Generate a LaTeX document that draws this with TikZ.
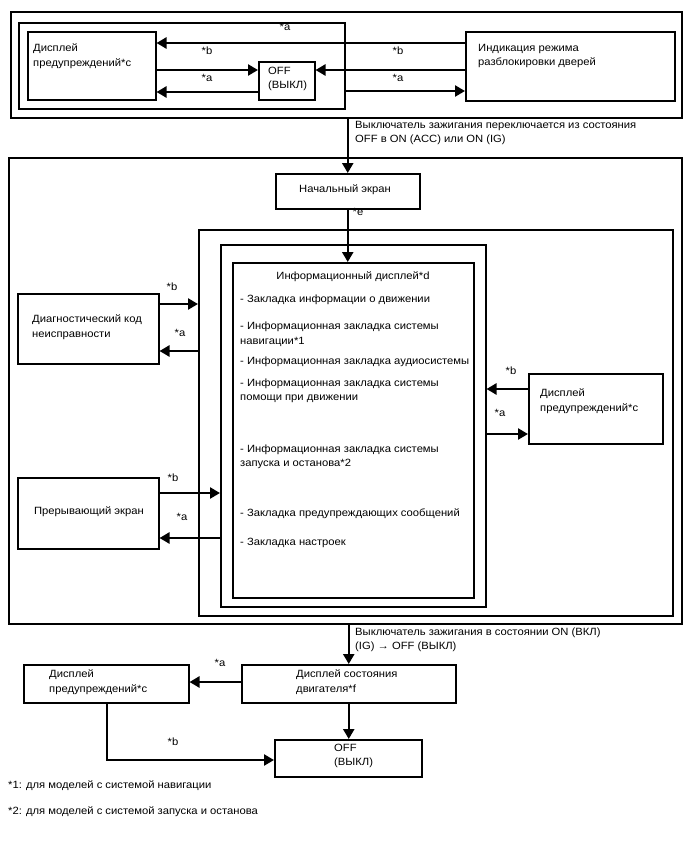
\documentclass[tikz,border=0pt]{standalone}
\usepackage{fontspec}
\setmainfont{Liberation Sans}[FakeStretch=1.07]
\usetikzlibrary{arrows.meta}
\newcommand\fs{\fontsize{10.5}{14.5}\selectfont}
\tikzset{
  box/.style={draw, line width=1.5pt, inner sep=0pt, anchor=north west},
  arr/.style={line width=2.4pt, -{Triangle[length=10pt,width=11pt]}},
  txt/.style={font=\fs, align=left, inner sep=0pt, anchor=west},
  lbl/.style={font=\fs, inner sep=0pt},
}
\begin{document}
\begin{tikzpicture}[x=1pt,y=-1pt]
\useasboundingbox (0,0) rectangle (688,852);
\fill[white] (0,0) rectangle (688,852);
% ---------- top section ----------
\node[box, minimum width=671pt, minimum height=106pt] (topouter) at (10,11) {};
\node[box, minimum width=326pt, minimum height=86pt] (topinner) at (18,22) {};
\node[box, minimum width=128pt, minimum height=68pt] (warnTop) at (27,31) {};
\node[box, minimum width=209pt, minimum height=69pt] (doorBox) at (465,31) {};
\node[box, minimum width=56pt, minimum height=38pt] (offTop) at (258,61) {};
\node[txt] (tWarnTop) at (33,56) {Дисплей\\предупреждений*c};
\node[txt] (tDoor) at (478,56) {Индикация режима\\разблокировки дверей};
\node[txt] (tOffTop) at (268,79) {OFF\\(ВЫКЛ)};
\draw[arr] (doorBox.west |- 0,43) -- (warnTop.east |- 0,43);
\draw[arr] (warnTop.east |- 0,70) -- (offTop.west |- 0,70);
\draw[arr] (offTop.west |- 0,92) -- (warnTop.east |- 0,92);
\draw[arr] (doorBox.west |- 0,70) -- (offTop.east |- 0,70);
\draw[arr] (topinner.east |- 0,91) -- (doorBox.west |- 0,91);
\node[lbl] (la1) at (285,27) {*a};
\node[lbl] (lb1) at (207,51) {*b};
\node[lbl] (lb2) at (398,51) {*b};
\node[lbl] (la2) at (207,78) {*a};
\node[lbl] (la3) at (398,78) {*a};
\node[txt] (tIgn1) at (355,133) {Выключатель зажигания переключается из состояния\\OFF в ON (ACC) или ON (IG)};
% ---------- middle section ----------
\node[box, minimum width=673pt, minimum height=466pt] (midouter) at (8,157) {};
\node[box, minimum width=144pt, minimum height=35pt] (startBox) at (275,173) {};
\node[box, minimum width=474pt, minimum height=386pt] (box1) at (198,229) {};
\node[box, minimum width=265pt, minimum height=362pt] (box2) at (220,244) {};
\node[box, minimum width=241pt, minimum height=335pt] (box3) at (232,262) {};
\node[box, minimum width=141pt, minimum height=70pt] (diagBox) at (17,293) {};
\node[box, minimum width=141pt, minimum height=71pt] (intBox) at (17,477) {};
\node[box, minimum width=134pt, minimum height=70pt] (warnRight) at (528,373) {};
\draw[arr] (topouter.south -| startBox.north) -- (startBox.north);
\draw[arr] (startBox.south) -- (box3.north -| startBox.south);
\node[lbl] (tStart) at (345,190) {Начальный экран};
\node[lbl] (le) at (358,212) {*e};
\node[lbl] (tInfo) at (353,277) {Информационный дисплей*d};
\node[txt] (i1) at (240,300) {- Закладка информации о движении};
\node[txt] (i2) at (240,334) {- Информационная закладка системы\\навигации*1};
\node[txt] (i3) at (240,362) {- Информационная закладка аудиосистемы};
\node[txt] (i4) at (240,391) {- Информационная закладка системы\\помощи при движении};
\node[txt] (i5) at (240,457) {- Информационная закладка системы\\запуска и останова*2};
\node[txt] (i6) at (240,514) {- Закладка предупреждающих сообщений};
\node[txt] (i7) at (240,543) {- Закладка настроек};
\node[txt] (tDiag) at (32,327) {Диагностический код\\неисправности};
\node[lbl] (tInt) at (89,512) {Прерывающий экран};
\node[txt] (tWarnRight) at (540,401) {Дисплей\\предупреждений*c};
\draw[arr] (diagBox.east |- 0,304) -- (box1.west |- 0,304);
\draw[arr] (box1.west |- 0,351) -- (diagBox.east |- 0,351);
\draw[arr] (intBox.east |- 0,493) -- (box2.west |- 0,493);
\draw[arr] (box2.west |- 0,538) -- (intBox.east |- 0,538);
\draw[arr] (warnRight.west |- 0,389) -- (box2.east |- 0,389);
\draw[arr] (box2.east |- 0,434) -- (warnRight.west |- 0,434);
\node[lbl] (lb3) at (172,287) {*b};
\node[lbl] (la4) at (180,333) {*a};
\node[lbl] (lb4) at (173,478) {*b};
\node[lbl] (la5) at (182,517) {*a};
\node[lbl] (lb5) at (511,371) {*b};
\node[lbl] (la6) at (500,413) {*a};
% ---------- bottom section ----------
\node[txt] (tIgn2) at (355,640) {Выключатель зажигания в состоянии ON (ВКЛ)\\(IG) → OFF (ВЫКЛ)};
\node[box, minimum width=165pt, minimum height=38pt] (warnBot) at (23,664) {};
\node[box, minimum width=214pt, minimum height=38pt] (engBox) at (241,664) {};
\node[box, minimum width=147pt, minimum height=37pt] (offBot) at (274,739) {};
\node[txt] (tWarnBot) at (49,682) {Дисплей\\предупреждений*c};
\node[txt] (tEng) at (296,682) {Дисплей состояния\\двигателя*f};
\node[txt] (tOffBot) at (334,756) {OFF\\(ВЫКЛ)};
\draw[arr] (midouter.south -| engBox.north) -- (engBox.north);
\draw[arr] (engBox.south) -- (offBot.north -| engBox.south);
\draw[arr] (engBox.west |- 0,682) -- (warnBot.east |- 0,682);
\coordinate (bend) at (107,760);
\draw[arr] (warnBot.south -| bend) -- (bend) -- (offBot.west |- bend);
\node[lbl] (la7) at (220,663) {*a};
\node[lbl] (lb6) at (173,742) {*b};
\node[txt] (fn1) at (8,786) {*1: для моделей с системой навигации};
\node[txt] (fn2) at (8,812) {*2: для моделей с системой запуска и останова};
\end{tikzpicture}
\end{document}
